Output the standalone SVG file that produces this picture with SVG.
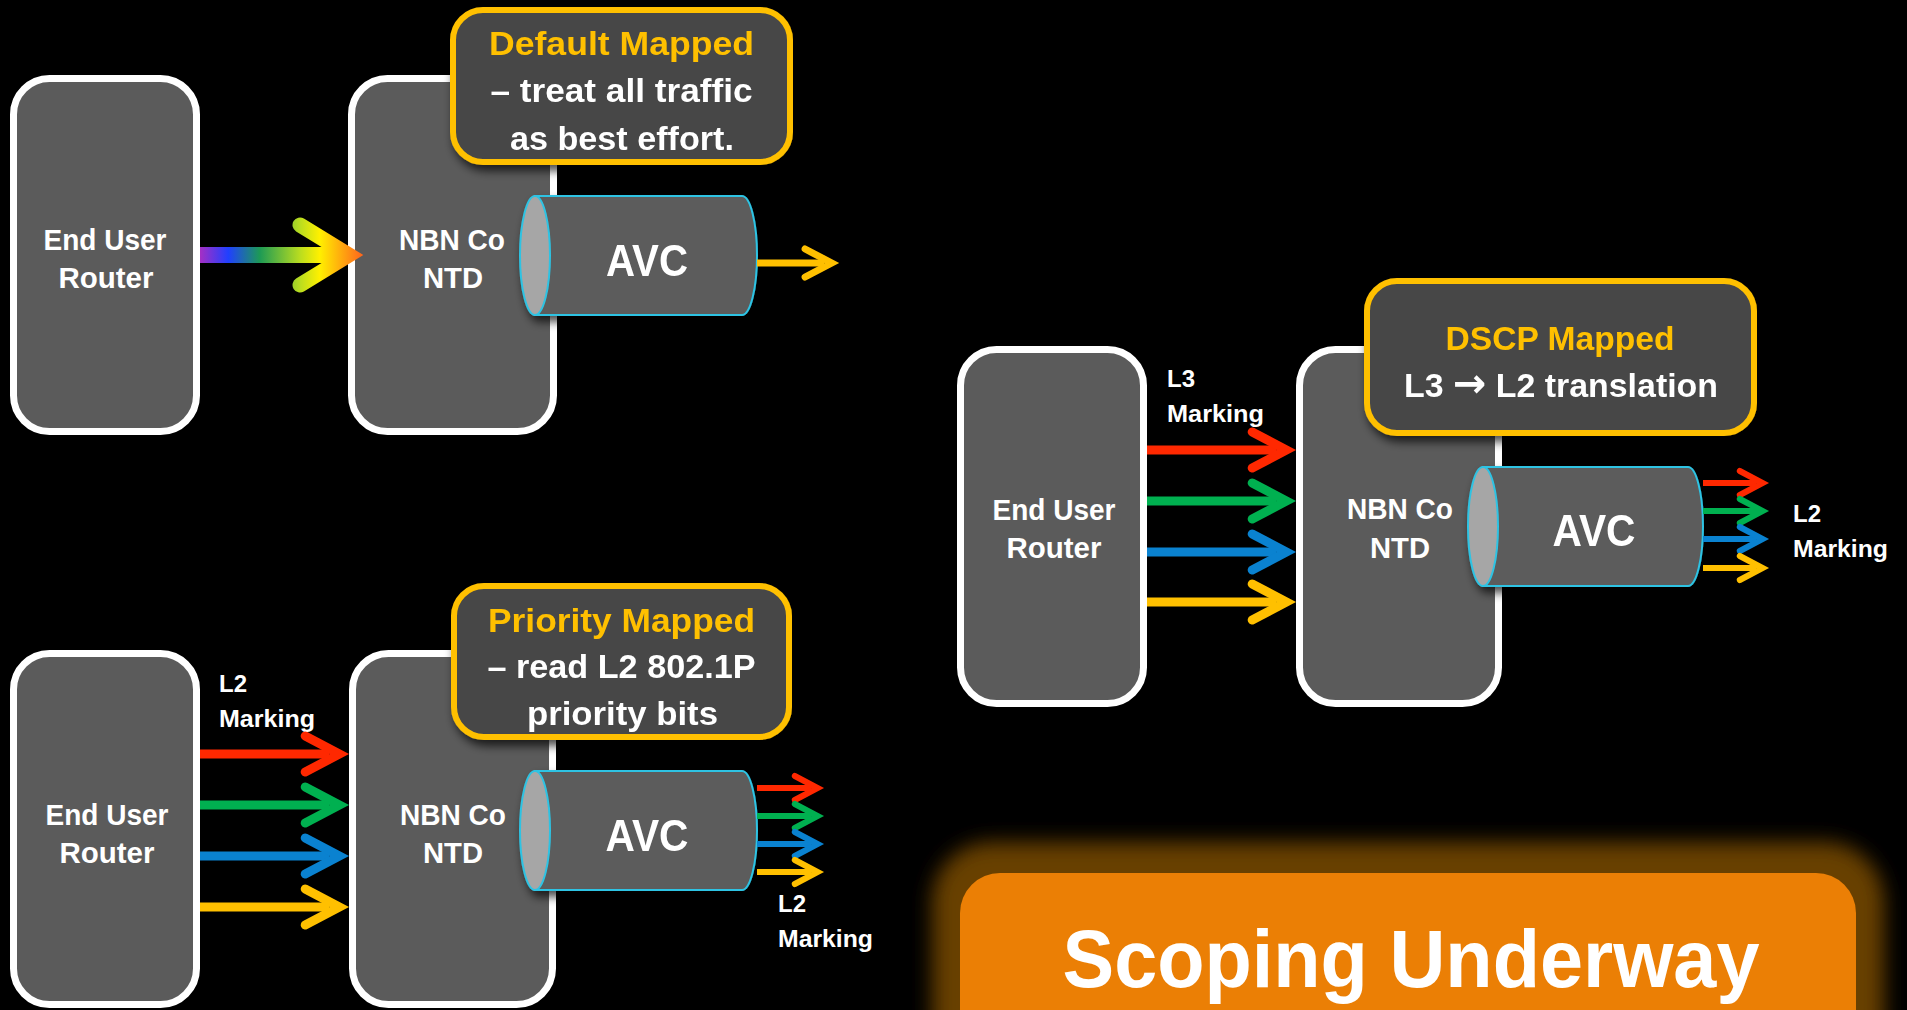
<svg xmlns="http://www.w3.org/2000/svg" width="1907" height="1010" viewBox="0 0 1907 1010">
<style>
.node{fill:#5b5b5b;stroke:#ffffff;stroke-width:7}
.callout{fill:#474747;stroke:#ffc000;stroke-width:6}
.cylb{fill:#5b5b5b;stroke:#2ec3e3;stroke-width:2}
.cylf{fill:#a6a6a6;stroke:#2ec3e3;stroke-width:2}
text{font-family:"Liberation Sans",Arial,sans-serif;font-weight:bold;fill:#ffffff}
.lbl{font-size:29px;text-anchor:middle}
.ct{font-size:34px;text-anchor:middle}
.cty{fill:#ffc000}
.avc{font-size:45px;text-anchor:middle}
.mk{font-size:24px}
.r{stroke:#ff2800;stroke-width:9}
.g{stroke:#00b050;stroke-width:9}
.b{stroke:#0a82d0;stroke-width:9}
.y{stroke:#ffc000;stroke-width:9}
.thin{stroke-width:6}
</style>
<defs>
<filter id="shadow" x="-20%" y="-20%" width="140%" height="150%">
<feDropShadow dx="3" dy="6" stdDeviation="5" flood-color="#000000" flood-opacity="0.7"/>
</filter>
<filter id="glow" x="-10%" y="-50%" width="120%" height="200%">
<feGaussianBlur stdDeviation="10"/>
</filter>
<linearGradient id="rainbow" gradientUnits="userSpaceOnUse" x1="200" y1="0" x2="366" y2="0">
<stop offset="0" stop-color="#a52fc4"/>
<stop offset="0.17" stop-color="#2040ff"/>
<stop offset="0.36" stop-color="#1d9a55"/>
<stop offset="0.6" stop-color="#b8dc20"/>
<stop offset="0.72" stop-color="#fff000"/>
<stop offset="1" stop-color="#ff5a1e"/>
</linearGradient>
<marker id="mR" viewBox="-3.5 -2.6 6 5.2" markerWidth="6" markerHeight="5.2" refX="0" refY="0" orient="auto" markerUnits="strokeWidth" overflow="visible"><path d="M-2.7,-2 L1.1,0 L-2.7,2" fill="none" stroke="#ff2800" stroke-width="1" stroke-linecap="round"/></marker>
<marker id="mG" viewBox="-3.5 -2.6 6 5.2" markerWidth="6" markerHeight="5.2" refX="0" refY="0" orient="auto" markerUnits="strokeWidth" overflow="visible"><path d="M-2.7,-2 L1.1,0 L-2.7,2" fill="none" stroke="#00b050" stroke-width="1" stroke-linecap="round"/></marker>
<marker id="mB" viewBox="-3.5 -2.6 6 5.2" markerWidth="6" markerHeight="5.2" refX="0" refY="0" orient="auto" markerUnits="strokeWidth" overflow="visible"><path d="M-2.7,-2 L1.1,0 L-2.7,2" fill="none" stroke="#0a82d0" stroke-width="1" stroke-linecap="round"/></marker>
<marker id="mY" viewBox="-3.5 -2.6 6 5.2" markerWidth="6" markerHeight="5.2" refX="0" refY="0" orient="auto" markerUnits="strokeWidth" overflow="visible"><path d="M-2.7,-2 L1.1,0 L-2.7,2" fill="none" stroke="#ffc000" stroke-width="1" stroke-linecap="round"/></marker>
</defs>
<rect x="0" y="0" width="1907" height="1010" fill="#000000"/>

<!-- Section 1: Default Mapped -->
<g id="router1"><rect class="node" x="13.5" y="78.5" width="183" height="353" rx="36"/>
<text class="lbl" x="105" y="250" textLength="123" lengthAdjust="spacingAndGlyphs">End User</text>
<text class="lbl" x="106" y="288" textLength="95" lengthAdjust="spacingAndGlyphs">Router</text></g>
<g id="ntd1"><rect class="node" x="351.5" y="78.5" width="202" height="353" rx="36"/>
<text class="lbl" x="452" y="250" textLength="106" lengthAdjust="spacingAndGlyphs">NBN Co</text>
<text class="lbl" x="453" y="288" textLength="60" lengthAdjust="spacingAndGlyphs">NTD</text></g>
<g id="callout1" filter="url(#shadow)"><rect class="callout" x="453" y="10" width="337" height="152" rx="30"/>
<text class="ct cty" x="621.5" y="55" textLength="265" lengthAdjust="spacingAndGlyphs">Default Mapped</text>
<text class="ct" x="621.5" y="102" textLength="262" lengthAdjust="spacingAndGlyphs">– treat all traffic</text>
<text class="ct" x="622" y="150" textLength="224" lengthAdjust="spacingAndGlyphs">as best effort.</text></g>
<g id="avc1" filter="url(#shadow)"><path class="cylb" d="M535,196 H742 A15,59.5 0 0 1 742,315 H535 Z"/>
<ellipse class="cylf" cx="535" cy="255.5" rx="15" ry="59.5"/>
<text class="avc" x="647" y="276" textLength="82" lengthAdjust="spacingAndGlyphs">AVC</text></g>

<!-- Section 2: Priority Mapped -->
<g id="router2"><rect class="node" x="13.5" y="653.5" width="183" height="351" rx="36"/>
<text class="lbl" x="107" y="825" textLength="123" lengthAdjust="spacingAndGlyphs">End User</text>
<text class="lbl" x="107" y="863" textLength="95" lengthAdjust="spacingAndGlyphs">Router</text></g>
<g id="ntd2"><rect class="node" x="352.5" y="653.5" width="200" height="351" rx="36"/>
<text class="lbl" x="453" y="825" textLength="106" lengthAdjust="spacingAndGlyphs">NBN Co</text>
<text class="lbl" x="453" y="863" textLength="60" lengthAdjust="spacingAndGlyphs">NTD</text></g>
<g id="callout2" filter="url(#shadow)"><rect class="callout" x="454" y="586" width="335" height="151" rx="30"/>
<text class="ct cty" x="621.5" y="632" textLength="267" lengthAdjust="spacingAndGlyphs">Priority Mapped</text>
<text class="ct" x="621.5" y="678" textLength="268" lengthAdjust="spacingAndGlyphs">– read L2 802.1P</text>
<text class="ct" x="622.5" y="725" textLength="191" lengthAdjust="spacingAndGlyphs">priority bits</text></g>
<g id="avc2" filter="url(#shadow)"><path class="cylb" d="M535,771 H742 A15,59.5 0 0 1 742,890 H535 Z"/>
<ellipse class="cylf" cx="535" cy="830.5" rx="15" ry="59.5"/>
<text class="avc" x="647" y="851" textLength="83" lengthAdjust="spacingAndGlyphs">AVC</text></g>
<g id="marking2in"><text class="mk" x="219" y="692">L2</text><text class="mk" x="219" y="727" textLength="96" lengthAdjust="spacingAndGlyphs">Marking</text></g>
<g id="marking2out"><text class="mk" x="778" y="912">L2</text><text class="mk" x="778" y="947" textLength="95" lengthAdjust="spacingAndGlyphs">Marking</text></g>

<!-- Section 3: DSCP Mapped -->
<g id="router3"><rect class="node" x="960.5" y="349.5" width="183" height="354" rx="36"/>
<text class="lbl" x="1054" y="520" textLength="123" lengthAdjust="spacingAndGlyphs">End User</text>
<text class="lbl" x="1054" y="558" textLength="95" lengthAdjust="spacingAndGlyphs">Router</text></g>
<g id="ntd3"><rect class="node" x="1299.5" y="349.5" width="199" height="354" rx="36"/>
<text class="lbl" x="1400" y="519" textLength="106" lengthAdjust="spacingAndGlyphs">NBN Co</text>
<text class="lbl" x="1400" y="558" textLength="60" lengthAdjust="spacingAndGlyphs">NTD</text></g>
<g id="callout3" filter="url(#shadow)"><rect class="callout" x="1367" y="281" width="387" height="152" rx="30"/>
<text class="ct cty" x="1560" y="350" textLength="229" lengthAdjust="spacingAndGlyphs">DSCP Mapped</text>
<text class="ct" x="1561" y="397" textLength="314" lengthAdjust="spacingAndGlyphs">L3 <tspan font-family="'DejaVu Sans', sans-serif" font-size="40">→</tspan> L2 translation</text></g>
<g id="avc3" filter="url(#shadow)"><path class="cylb" d="M1483,467 H1688 A15,59.5 0 0 1 1688,586 H1483 Z"/>
<ellipse class="cylf" cx="1483" cy="526.5" rx="15" ry="59.5"/>
<text class="avc" x="1594" y="546" textLength="83" lengthAdjust="spacingAndGlyphs">AVC</text></g>
<g id="marking3in"><text class="mk" x="1167" y="387">L3</text><text class="mk" x="1167" y="422" textLength="97" lengthAdjust="spacingAndGlyphs">Marking</text></g>
<g id="marking3out"><text class="mk" x="1793" y="522">L2</text><text class="mk" x="1793" y="557" textLength="95" lengthAdjust="spacingAndGlyphs">Marking</text></g>

<!-- Scoping Underway -->
<g id="scoping">
<rect x="932" y="842" width="952" height="240" rx="60" fill="#684000" filter="url(#glow)"/>
<rect x="960" y="873" width="896" height="200" rx="40" fill="#eb7f05"/>
<text x="1411" y="987" font-size="82" text-anchor="middle" textLength="697" lengthAdjust="spacingAndGlyphs">Scoping Underway</text>
</g>

<!-- Connectors -->
<g id="connectors" fill="none">
<g id="rainbow-arrow">
<line x1="200" y1="255" x2="336" y2="255" stroke="url(#rainbow)" stroke-width="16"/>
<polyline points="300,225 349,255 300,285" stroke="url(#rainbow)" stroke-width="15" stroke-linecap="round" stroke-linejoin="miter"/>
</g>
<line class="y" style="stroke-width:7" x1="757" y1="263" x2="824" y2="263" marker-end="url(#mY)"/>

<line class="r" x1="200" y1="754" x2="329.5" y2="754" marker-end="url(#mR)"/>
<line class="g" x1="200" y1="805" x2="329.5" y2="805" marker-end="url(#mG)"/>
<line class="b" x1="200" y1="856" x2="329.5" y2="856" marker-end="url(#mB)"/>
<line class="y" x1="200" y1="907" x2="329.5" y2="907" marker-end="url(#mY)"/>
<line class="r thin" x1="757" y1="788" x2="811" y2="788" marker-end="url(#mR)"/>
<line class="g thin" x1="757" y1="816" x2="811" y2="816" marker-end="url(#mG)"/>
<line class="b thin" x1="757" y1="844" x2="811" y2="844" marker-end="url(#mB)"/>
<line class="y thin" x1="757" y1="872" x2="811" y2="872" marker-end="url(#mY)"/>

<line class="r" x1="1147" y1="450" x2="1276.5" y2="450" marker-end="url(#mR)"/>
<line class="g" x1="1147" y1="501" x2="1276.5" y2="501" marker-end="url(#mG)"/>
<line class="b" x1="1147" y1="552" x2="1276.5" y2="552" marker-end="url(#mB)"/>
<line class="y" x1="1147" y1="602" x2="1276.5" y2="602" marker-end="url(#mY)"/>
<line class="r thin" x1="1703" y1="483" x2="1756" y2="483" marker-end="url(#mR)"/>
<line class="g thin" x1="1703" y1="511" x2="1756" y2="511" marker-end="url(#mG)"/>
<line class="b thin" x1="1703" y1="539" x2="1756" y2="539" marker-end="url(#mB)"/>
<line class="y thin" x1="1703" y1="568" x2="1756" y2="568" marker-end="url(#mY)"/>
</g>
</svg>
